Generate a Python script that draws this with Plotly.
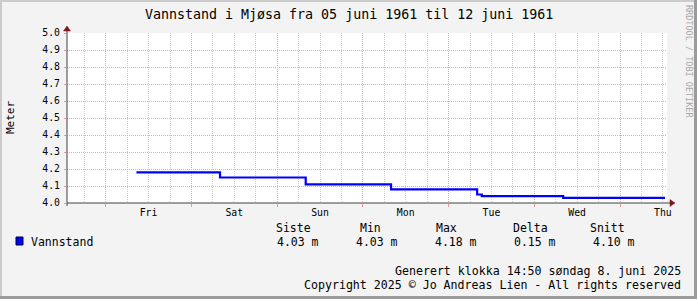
import plotly.graph_objects as go

# ---- data ----
# time in hours relative to Friday 00:00
times_h = [8.6, 32.0, 56.0, 79.9, 104.0, 105.3, 128.1, 156.6]
levels_m = [4.18, 4.15, 4.11, 4.08, 4.05, 4.04, 4.03, 4.03]
day_labels = ["Fri", "Sat", "Sun", "Mon", "Tue", "Wed", "Thu"]
day_noon_h = [12, 36, 60, 84, 108, 132, 156]
midnights_h = [0, 24, 48, 72, 96, 120, 144]
stat_headers = ["Siste", "Min", "Max", "Delta", "Snitt"]
stat_values = ["4.03 m", "4.03 m", "4.18 m", "0.15 m", "4.10 m"]

W, H = 697, 299
L, R, T, B = 67, 667, 33, 203
FONT = "DejaVu Sans Mono"


def px(x):
    return (x - L) / (R - L)


def py(y):
    return (B - y) / (B - T)


fig = go.Figure()
fig.add_trace(go.Scatter(x=times_h, y=levels_m, mode="lines", line_shape="hv",
                         line=dict(color="#0000FF", width=2.2), showlegend=False,
                         hoverinfo="skip"))
# invisible trace on xaxis2 for day labels
fig.add_trace(go.Scatter(x=[day_noon_h[0]], y=[4.5], xaxis="x2", mode="markers",
                         marker=dict(opacity=0), showlegend=False, hoverinfo="skip"))

xr = [-10.84, 157.16]
fig.update_layout(
    width=W, height=H,
    margin=dict(l=L, r=W - R, t=T, b=H - B, pad=0),
    paper_bgcolor="#F3F3F3", plot_bgcolor="#FFFFFF",
    font=dict(family=FONT, size=10, color="#000000"),
    xaxis=dict(range=xr, tickmode="array", tickvals=midnights_h, showticklabels=False,
               ticks="outside", ticklen=3, tickcolor="#E89A9A", tickwidth=1,
               showgrid=True, gridcolor="#EFA8A8", griddash="1px,1px", gridwidth=1,
               zeroline=False, showline=False,
               minor=dict(dtick=6, tick0=0, showgrid=True, gridcolor="#CFCFCF",
                          griddash="1px,1px", gridwidth=1, ticks="")),
    xaxis2=dict(range=xr, overlaying="x", anchor="y", side="bottom", tickmode="array",
                tickvals=day_noon_h, ticktext=day_labels, showgrid=False, zeroline=False,
                ticks="", tickfont=dict(family=FONT, size=9.8, color="#000"),
                ticklabelstandoff=2, showline=False),
    yaxis=dict(range=[4.0, 5.0], dtick=0.1, tick0=4.0, tickformat=".1f",
               ticks="outside", ticklen=2, tickcolor="#E89A9A",
               tickfont=dict(family=FONT, size=9.8, color="#000"),
               ticklabelstandoff=2,
               showgrid=True, gridcolor="#EFA8A8", griddash="1px,1px",
               zeroline=False, showline=False),
    showlegend=False,
)

shapes = []
# frame
shapes.append(dict(type="rect", xref="paper", yref="paper", x0=px(0), x1=px(2), y0=py(0), y1=py(H),
                   fillcolor="#CBCBCB", line_width=0, layer="above"))
shapes.append(dict(type="rect", xref="paper", yref="paper", x0=px(0), x1=px(W), y0=py(0), y1=py(2),
                   fillcolor="#CBCBCB", line_width=0, layer="above"))
shapes.append(dict(type="rect", xref="paper", yref="paper", x0=px(W - 3), x1=px(W), y0=py(0), y1=py(H),
                   fillcolor="#9B9B9B", line_width=0, layer="above"))
shapes.append(dict(type="rect", xref="paper", yref="paper", x0=px(0), x1=px(W), y0=py(H - 3), y1=py(H),
                   fillcolor="#9B9B9B", line_width=0, layer="above"))
# axis lines
shapes.append(dict(type="line", xref="paper", yref="paper", x0=px(L), x1=px(670), y0=py(B), y1=py(B),
                   line=dict(color="#404040", width=1), layer="above"))
shapes.append(dict(type="line", xref="paper", yref="paper", x0=px(L), x1=px(L), y0=py(206), y1=py(30),
                   line=dict(color="#404040", width=1), layer="above"))
# arrows
shapes.append(dict(type="path", xref="paper", yref="paper",
                   path=f"M {px(670)} {py(B-3.5)} L {px(675)} {py(B)} L {px(670)} {py(B+3.5)} Z",
                   fillcolor="#801818", line=dict(color="#801818", width=0.5), layer="above"))
shapes.append(dict(type="path", xref="paper", yref="paper",
                   path=f"M {px(L-3.5)} {py(31)} L {px(L)} {py(26)} L {px(L+3.5)} {py(31)} Z",
                   fillcolor="#801818", line=dict(color="#801818", width=0.5), layer="above"))
# legend swatch
shapes.append(dict(type="rect", xref="paper", yref="paper", x0=px(16), x1=px(23), y0=py(245), y1=py(237),
                   fillcolor="#0000FF", line=dict(color="#000044", width=1), layer="above"))
fig.update_layout(shapes=shapes)

ann = []
ann.append(dict(text="Vannstand i Mjøsa fra 05 juni 1961 til 12 juni 1961", xref="paper", yref="paper",
                x=px(348.5), y=py(14.5), xanchor="center", yanchor="middle", showarrow=False,
                font=dict(family=FONT, size=13.3, color="#000")))
ann.append(dict(text="Meter", xref="paper", yref="paper", x=px(10), y=py(118), textangle=-90,
                xanchor="center", yanchor="middle", showarrow=False,
                font=dict(family=FONT, size=11, color="#000")))
ann.append(dict(text="RRDTOOL / TOBI OETIKER", xref="paper", yref="paper", x=px(689), y=py(61),
                textangle=90, xanchor="center", yanchor="middle", showarrow=False,
                font=dict(family=FONT, size=8.5, color="#A8A8A8")))
ann.append(dict(text="Vannstand", xref="paper", yref="paper", x=px(29), y=py(242),
                xanchor="left", yanchor="middle", showarrow=False,
                font=dict(family=FONT, size=11.5, color="#000")))
hdr_cx = [293, 370.5, 446.5, 530.5, 607.5]
val_x = [277, 356, 435, 514, 593]
for h, cx in zip(stat_headers, hdr_cx):
    ann.append(dict(text=h, xref="paper", yref="paper", x=px(cx), y=py(228),
                    xanchor="center", yanchor="middle", showarrow=False,
                    font=dict(family=FONT, size=11.5, color="#000")))
for v, vx in zip(stat_values, val_x):
    ann.append(dict(text=v, xref="paper", yref="paper", x=px(vx - 2), y=py(242),
                    xanchor="left", yanchor="middle", showarrow=False,
                    font=dict(family=FONT, size=11.5, color="#000")))
ann.append(dict(text="Generert klokka 14:50 søndag 8. juni 2025", xref="paper", yref="paper",
                x=px(683), y=py(271), xanchor="right", yanchor="middle", showarrow=False,
                font=dict(family=FONT, size=11.6, color="#000")))
ann.append(dict(text="Copyright 2025 © Jo Andreas Lien - All rights reserved", xref="paper", yref="paper",
                x=px(683), y=py(285), xanchor="right", yanchor="middle", showarrow=False,
                font=dict(family=FONT, size=11.6, color="#000")))
fig.update_layout(annotations=ann)

fig.write_html("out.html")
